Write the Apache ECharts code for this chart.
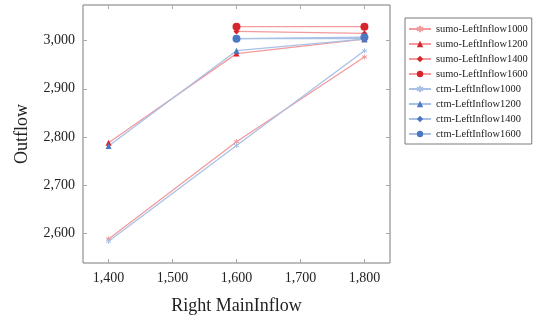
<!DOCTYPE html>
<html>
<head>
<meta charset="utf-8">
<script src="https://cdn.jsdelivr.net/npm/echarts@6/dist/echarts.min.js"></script>
<style>
  html, body { margin: 0; padding: 0; background: #fff; }
  #chart { width: 555px; height: 320px; }
</style>
</head>
<body>
<div id="chart"></div>
<script>
// x positions (Right MainInflow)
var mainInflow = [1400, 1600, 1800];
var xTicks = [1400, 1500, 1600, 1700, 1800];
var yTicks = [2600, 2700, 2800, 2900, 3000];

// outflow values, '-' = no point
var sumo1000 = [2588, 2790, 2966];
var sumo1200 = [2788, 2973, 3003];
var sumo1400 = ['-', 3019, 3015];
var sumo1600 = ['-', 3029, 3029];
var ctm1000 = [2583, 2782, 2979];
var ctm1200 = [2781, 2979, 3003];
var ctm1400 = ['-', 3004, 3004];
var ctm1600 = ['-', 3004, 3007];

var names = [
  'sumo-LeftInflow1000', 'sumo-LeftInflow1200', 'sumo-LeftInflow1400', 'sumo-LeftInflow1600',
  'ctm-LeftInflow1000', 'ctm-LeftInflow1200', 'ctm-LeftInflow1400', 'ctm-LeftInflow1600'
];
var values = [sumo1000, sumo1200, sumo1400, sumo1600, ctm1000, ctm1200, ctm1400, ctm1600];

var star = 'path://M0,-10L0,10M-8.7,-5L8.7,5M-8.7,5L8.7,-5';
var shapes = [
  { symbol: star, size: 5 },
  { symbol: 'triangle', size: 6 },
  { symbol: 'diamond', size: 6 },
  { symbol: 'circle', size: 8 }
];

var font = '"Liberation Serif", "DejaVu Serif", serif';

function makeSeries(idx) {
  var isSumo = idx < 4;
  var shape = shapes[idx % 4];
  var markColor = isSumo ? '#d8242b' : '#4a78c2';
  var lineColor = isSumo ? '#f29a9d' : '#a9c1e6';
  var isStar = shape.symbol === star;
  return {
    name: names[idx],
    type: 'line',
    data: values[idx].map(function (v, i) { return [mainInflow[i], v]; }),
    symbol: shape.symbol,
    symbolSize: shape.size,
    showAllSymbol: true,
    lineStyle: { color: lineColor, width: 1.3 },
    itemStyle: {
      color: isStar ? 'none' : markColor,
      borderColor: isStar ? lineColor : markColor,
      borderWidth: isStar ? 1 : 0
    },
    emphasis: { disabled: true },
    animation: false
  };
}

var series = [];
for (var i = 0; i < names.length; i++) series.push(makeSeries(i));

var chart = echarts.init(document.getElementById('chart'));
var option = {
  backgroundColor: '#fff',
  grid: {
    left: 83, right: 165, top: 5, bottom: 52,
    show: true, backgroundColor: '#fff', borderColor: '#7a7a7a', borderWidth: 1
  },
  legend: {
    data: names,
    orient: 'vertical',
    left: 405,
    top: 18,
    itemWidth: 22,
    itemHeight: 8,
    itemGap: 3,
    padding: [5, 4, 4, 3],
    borderColor: '#7a7a7a',
    borderWidth: 1,
    textStyle: { fontFamily: font, fontSize: 10.4, lineHeight: 12, color: '#222' }
  },
  xAxis: [{
    type: 'value',
    min: 1360,
    max: 1840,
    name: 'Right MainInflow',
    nameLocation: 'middle',
    nameGap: 34,
    nameTextStyle: { fontFamily: font, fontSize: 18, color: '#222' },
    axisLine: { show: false },
    splitLine: { show: false },
    axisTick: { inside: true, length: 4, lineStyle: { color: '#aaa' }, customValues: xTicks },
    axisLabel: {
      fontFamily: font, fontSize: 14, color: '#222', margin: 8,
      customValues: xTicks,
      formatter: function (v) { return v.toLocaleString('en-US'); }
    }
  }, {
    type: 'value',
    position: 'top',
    min: 1360,
    max: 1840,
    axisLine: { show: false },
    splitLine: { show: false },
    axisTick: { inside: true, length: 4, lineStyle: { color: '#aaa' }, customValues: xTicks },
    axisLabel: { show: false }
  }],
  yAxis: [{
    type: 'value',
    min: 2538,
    max: 3074,
    name: 'Outflow',
    nameLocation: 'middle',
    nameGap: 52,
    nameTextStyle: { fontFamily: font, fontSize: 18, color: '#222' },
    axisLine: { show: false },
    splitLine: { show: false },
    axisTick: { inside: true, length: 4, lineStyle: { color: '#aaa' }, customValues: yTicks },
    axisLabel: {
      fontFamily: font, fontSize: 14, color: '#222', margin: 8,
      customValues: yTicks,
      formatter: function (v) { return v.toLocaleString('en-US'); }
    }
  }, {
    type: 'value',
    position: 'right',
    min: 2538,
    max: 3074,
    axisLine: { show: false },
    splitLine: { show: false },
    axisTick: { inside: true, length: 4, lineStyle: { color: '#aaa' }, customValues: yTicks },
    axisLabel: { show: false }
  }],
  series: series
};
chart.setOption(option);
</script>
</body>
</html>
